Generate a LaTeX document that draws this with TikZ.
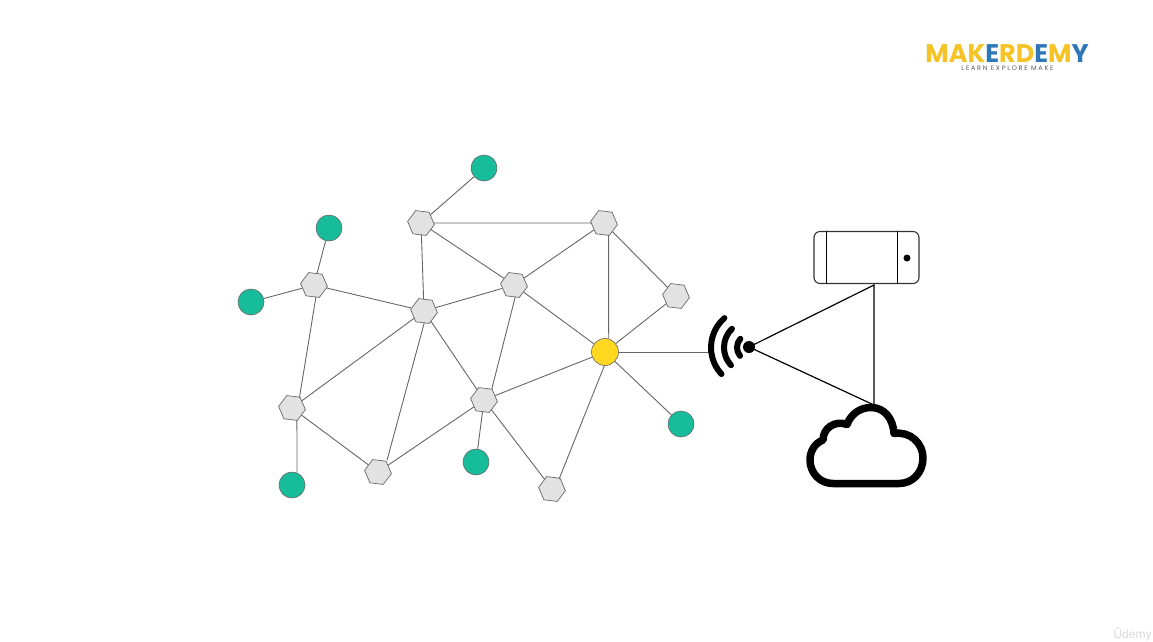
\documentclass[tikz,border=0pt]{standalone}
\usepackage{fontspec}
\setmainfont{Poppins}
\newfontfamily\udemyfont{Liberation Sans}
\usetikzlibrary{positioning}
\usetikzlibrary{shapes.geometric}
\definecolor{tealdot}{HTML}{17BD9B}
\definecolor{hexgray}{HTML}{E2E2E2}
\definecolor{linkgray}{HTML}{666666}
\definecolor{sunny}{HTML}{FFD81F}
\definecolor{logoyellow}{HTML}{F5C326}
\definecolor{logoblue}{HTML}{2F78B8}
\tikzstyle{sensor} = [circle, minimum size=26pt, inner sep=0pt, draw=linkgray, line width=0.6pt, fill=tealdot]
\tikzstyle{router} = [regular polygon, regular polygon sides=6, rotate=-7, minimum size=27pt, inner sep=0pt, draw=linkgray, line width=0.7pt, fill=hexgray]
\tikzstyle{hub} = [circle, minimum size=27pt, inner sep=0pt, draw=linkgray, line width=0.6pt, fill=sunny]
\tikzstyle{link} = [draw=linkgray, line width=0.9pt]
\tikzstyle{wave} = [black, line width=6pt, line cap=round]
\tikzstyle{uplink} = [black, line width=1.2pt]

\begin{document}
\begin{tikzpicture}[x=1pt, y=-1pt]
        \useasboundingbox (0,0) rectangle (1153,641);
        % mesh
        \node (s1) [sensor] at (484,168) {};
        \node (s2) [sensor] at (329,228) {};
        \node (s3) [sensor] at (251,302) {};
        \node (s4) [sensor] at (292,485) {};
        \node (s5) [sensor] at (476,462) {};
        \node (s6) [sensor] at (681,424) {};
        \node (r1) [router] at (421,223) {};
        \node (r2) [router] at (604,223) {};
        \node (r3) [router] at (514,285) {};
        \node (r4) [router] at (676,296) {};
        \node (r5) [router] at (314,285) {};
        \node (r6) [router] at (424,311) {};
        \node (r7) [router] at (292,408) {};
        \node (r8) [router] at (484,400) {};
        \node (r9) [router] at (378,472) {};
        \node (r10) [router] at (552,489) {};
        \node (gate) [hub] at (605,352) {};
        \draw [link] (s1) -- (r1);
        \draw [link] (s2) -- (r5);
        \draw [link] (s3) -- (r5);
        \draw [link] ([xshift=6.4pt]r7.south) -- ([xshift=5pt, yshift=-1pt]s4.north);
        \draw [link] (s5) -- (r8);
        \draw [link] (s6) -- (gate);
        \draw [link] (r1) -- (r2);
        \draw [link] (r1) -- (r3);
        \draw [link] (r1) -- (r6);
        \draw [link] (r2) -- (r3);
        \draw [link] ([xshift=6pt]r2.south) -- ([xshift=3.7pt, yshift=-0.5pt]gate.north);
        \draw [link] (r2) -- (r4);
        \draw [link] (r4) -- (gate);
        \draw [link] (r3) -- (r6);
        \draw [link] ([xshift=2.7pt]r3.south) -- ([xshift=6.3pt, yshift=-1pt]r8.north);
        \draw [link] (r3) -- (gate);
        \draw [link] (r5) -- (r6);
        \draw [link] ([xshift=3.4pt]r5.south) -- ([xshift=6pt, yshift=-1.4pt]r7.north);
        \draw [link] (r6) -- (r7);
        \draw [link] ([xshift=1.7pt]r6.south) -- ([xshift=7.6pt]r9.north);
        \draw [link] (r6) -- (r8);
        \draw [link] (r7) -- (r9);
        \draw [link] (r9) -- (r8);
        \draw [link] (r8) -- (r10);
        \draw [link] (r8) -- (gate);
        \draw [link] ([xshift=5.6pt, yshift=-2pt]r10.north) -- ([xshift=-0.7pt]gate.south);
        \coordinate (wifiend) at (710,352);
        \draw [link] (gate) -- (wifiend);
        % wifi
        \node (wifi) [circle, fill=black, minimum size=12pt, inner sep=0pt] at (749,347) {};
        \draw [wave] (750,347.5) ++(140:13) arc[start angle=140, end angle=222, radius=13];
        \draw [wave] (750,347.5) ++(137:26) arc[start angle=137, end angle=226, radius=26];
        \draw [wave] (750,347.5) ++(137:39) arc[start angle=137, end angle=229, radius=39];
        % phone
        \node (phone) [rectangle, rounded corners=6pt, minimum width=105pt, minimum height=52pt, inner sep=0pt, draw=black!80, line width=1.1pt] at (866.5,257.5) {};
        \draw [uplink] ([xshift=13pt]phone.north west) -- ([xshift=13pt]phone.south west);
        \draw [uplink] ([xshift=-22pt]phone.north east) -- ([xshift=-22pt]phone.south east);
        \node (lens) [circle, fill=black, minimum size=7pt, inner sep=0pt] at (907,258) {};
        % cloud
        \coordinate (phonefoot) at (874,285);
        \coordinate (cloudtop) at (874,405);
        \draw [black, line width=7.5pt, line join=round] (833,483.5) -- (899,483.5)
            .. controls (913,483.5) and (923,472) .. (923,458)
            .. controls (923,443) and (910,431) .. (894,433.5)
            .. controls (893,418) and (884,407.5) .. (871,407.5)
            .. controls (860,407.5) and (851,414) .. (847,424.5)
            .. controls (835,420) and (823,428) .. (823,440)
            .. controls (815,443) and (810,451) .. (810,460)
            .. controls (810,473) and (820,483.5) .. (833,483.5) -- cycle;
        \draw [uplink] (wifi.center) -- (phonefoot) -- (cloudtop) -- cycle;
        % logo
        \node (logo) [inner sep=0pt, font=\fontsize{25.5}{26}\selectfont\bfseries] at (1007,53.5) {\textcolor{logoyellow}{MAK}\textcolor{logoblue}{E}\textcolor{logoyellow}{RD}\textcolor{logoblue}{E}\textcolor{logoyellow}{M}\textcolor{logoblue}{Y}};
        \node (motto) [inner sep=0pt, text=black!65, font=\fontsize{6.5}{7}\selectfont] at (1007.5,68.5) {L E A R N\ \ E X P L O R E\ \ M A K E};
        \node (udemy) [inner sep=0pt, text=black!15, font=\udemyfont\fontsize{12}{13}\selectfont] at (1132.5,634) {Ûdemy};
    \end{tikzpicture}
\end{document}
